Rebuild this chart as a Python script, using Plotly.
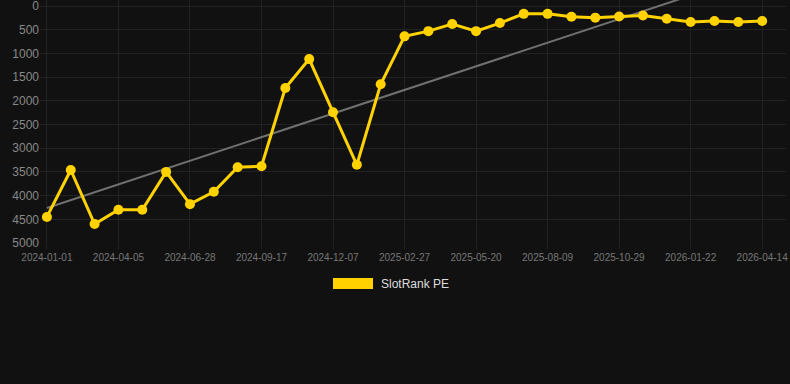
import plotly.graph_objects as go

dates = [
    "2024-01-01", "2024-02-02", "2024-03-04", "2024-04-05", "2024-05-03", "2024-05-31",
    "2024-06-28", "2024-07-25", "2024-08-21", "2024-09-17", "2024-10-14", "2024-11-10",
    "2024-12-07", "2025-01-03", "2025-01-31", "2025-02-27", "2025-03-26", "2025-04-23",
    "2025-05-20", "2025-06-16", "2025-07-13", "2025-08-09", "2025-09-05", "2025-10-02",
    "2025-10-29", "2025-11-26", "2025-12-24", "2026-01-22", "2026-02-18", "2026-03-17",
    "2026-04-14",
]
rank = [
    4450, 3460, 4600, 4300, 4300, 3500, 4180, 3920, 3400, 3380,
    1730, 1120, 2240, 3350, 1650, 640, 530, 380, 530, 360,
    165, 165, 225, 245, 220, 200, 267, 338, 317, 338, 317,
]
trend_x = [dates[0], dates[-1]]
trend_y = [4260, -720]
tick_labels = dates[::3]
y_ticks = [0, 500, 1000, 1500, 2000, 2500, 3000, 3500, 4000, 4500, 5000]

BG = "#111111"
GRID = "#222222"
GOLD = "#FFD200"
FONT = "Liberation Sans, Arial, sans-serif"

fig = go.Figure()
fig.add_trace(go.Scatter(
    x=trend_x, y=trend_y, mode="lines",
    line=dict(color="#707070", width=2),
    hoverinfo="skip", showlegend=False,
))
fig.add_trace(go.Scatter(
    x=dates, y=rank, mode="lines+markers", name="SlotRank PE",
    line=dict(color=GOLD, width=3),
    marker=dict(color=GOLD, size=10),
    showlegend=False,
))

fig.update_layout(
    width=790, height=384,
    paper_bgcolor=BG, plot_bgcolor=BG,
    margin=dict(l=40, r=4, t=0, b=141),
    font=dict(family=FONT, color="#888888"),
    showlegend=False,
    xaxis=dict(
        type="category", categoryorder="array", categoryarray=dates,
        range=[-0.29, 31.0],
        tickmode="array", tickvals=tick_labels, ticktext=tick_labels,
        tickfont=dict(size=10, color="#777777"),
        showgrid=True, gridcolor=GRID, gridwidth=1,
        ticks="outside", ticklen=5, tickcolor=GRID,
        zeroline=False, showline=False,
    ),
    yaxis=dict(
        range=[5000, -127],
        tickmode="array", tickvals=y_ticks,
        tickfont=dict(size=12, color="#888888"),
        showgrid=True, gridcolor=GRID, gridwidth=1,
        zeroline=False, showline=False,
        ticklabeloverflow="allow",
    ),
    shapes=[dict(
        type="rect", xref="paper", yref="paper",
        x0=(333 - 40) / 746, x1=(373 - 40) / 746,
        y0=(243 - 289) / 243, y1=(243 - 278) / 243,
        fillcolor=GOLD, line=dict(width=0),
    )],
    annotations=[dict(
        xref="paper", yref="paper",
        x=(379 - 40) / 746, y=(243 - 284) / 243,
        xanchor="left", yanchor="middle", showarrow=False,
        text="SlotRank PE", font=dict(size=12, color="#dddddd", family=FONT),
    )],
)

fig.write_html(
    "out.html",
    config={"displayModeBar": False},
    post_script="document.body.style.margin='0';document.body.style.background='#111111';",
)
